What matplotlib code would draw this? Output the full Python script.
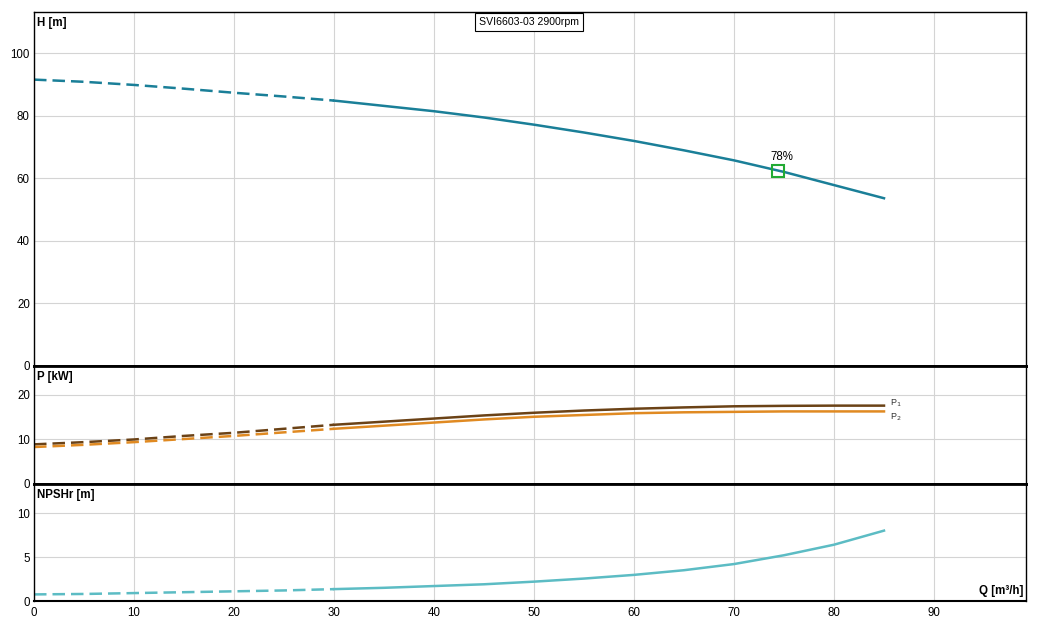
import matplotlib
matplotlib.use("Agg")
import matplotlib.pyplot as plt
import numpy as np

plt.rcParams['font.family'] = ['Liberation Sans', 'DejaVu Sans']

q = [0, 5, 10, 15, 20, 25, 30, 35, 40, 45, 50, 55, 60, 65, 70, 75, 80, 85]
head = [91.5, 90.8, 89.8, 88.6, 87.3, 86.1, 84.8, 83.1, 81.4, 79.4, 77.1, 74.6, 71.9, 68.9, 65.7, 62.0, 57.8, 53.6]
p1 = [8.9, 9.4, 10.0, 10.8, 11.5, 12.4, 13.3, 14.0, 14.7, 15.4, 16.0, 16.5, 16.9, 17.2, 17.45, 17.55, 17.6, 17.6]
p2 = [8.3, 8.8, 9.4, 10.1, 10.8, 11.6, 12.4, 13.1, 13.8, 14.5, 15.1, 15.5, 15.9, 16.1, 16.2, 16.3, 16.3, 16.3]
npsh = [0.75, 0.8, 0.9, 1.0, 1.1, 1.2, 1.35, 1.5, 1.7, 1.9, 2.2, 2.55, 2.97, 3.5, 4.2, 5.2, 6.4, 8.0]
q_split = 30
bep_q, bep_h, bep_label = 74.4, 62.4, "78%"
title = "SVI6603-03 2900rpm"
x_ticks = [0, 10, 20, 30, 40, 50, 60, 70, 80, 90]
h_ticks = [0, 20, 40, 60, 80, 100]
p_ticks = [0, 10, 20]
n_ticks = [0, 5, 10]

W, H = 1043, 625
fig = plt.figure(figsize=(W / 100, H / 100), dpi=100)
L, R = 34 / W, 1026 / W

def ax_at(top, bottom):
    return fig.add_axes([L, 1 - bottom / H, R - L, (bottom - top) / H])

axH = ax_at(12, 366)
axP = ax_at(366, 484)
axN = ax_at(484, 601)

c_h = "#1a7f98"
c_n = "#5cbcc4"
c_p1 = "#6b4216"
c_p2 = "#e08a22"
fs = 8.3

qa = np.array(q)
def split_plot(ax, y, color, lw=1.8):
    y = np.array(y)
    m1 = qa <= q_split
    m2 = qa >= q_split
    ax.plot(qa[m1], y[m1], color=color, lw=lw, ls=(0, (5, 2.4)))
    ax.plot(qa[m2], y[m2], color=color, lw=lw, ls="-")

split_plot(axH, head, c_h)
split_plot(axP, p1, c_p1)
split_plot(axP, p2, c_p2)
split_plot(axN, npsh, c_n)

axH.plot([bep_q], [bep_h], marker="s", ms=8, mfc="none", mec="#22aa33", mew=1.5)
axH.text(bep_q + 0.4, bep_h + 2.5, bep_label, fontsize=fs, ha="center", va="bottom")

axP.text(q[-1] + 0.6, p1[-1] + 0.6, "P$_1$", fontsize=6.5, va="center", ha="left", color="#333333")
axP.text(q[-1] + 0.6, p2[-1] - 1.2, "P$_2$", fontsize=6.5, va="center", ha="left", color="#333333")

for ax, ylim, ticks in [(axH, (0, 113.1), h_ticks), (axP, (0, 26.5), p_ticks), (axN, (0, 13.3), n_ticks)]:
    ax.set_xlim(0, 99.2)
    ax.set_ylim(*ylim)
    ax.set_yticks(ticks)
    ax.set_xticks(x_ticks)
    ax.grid(True, color="#d4d4d4", lw=0.8)
    ax.set_axisbelow(True)
    ax.tick_params(length=0, labelsize=fs, pad=3)
    for s in ax.spines.values():
        s.set_color("black")
        s.set_linewidth(1.0)

axH.tick_params(labelbottom=False)
axP.tick_params(labelbottom=False)
axH.spines["bottom"].set_linewidth(2)
axP.spines["top"].set_linewidth(2)
axP.spines["bottom"].set_linewidth(2)
axN.spines["top"].set_linewidth(2)
axN.spines["bottom"].set_linewidth(1.5)
axN.tick_params(axis="x", pad=4)

axH.text(0.003, 0.985, "H [m]", transform=axH.transAxes, fontsize=fs, fontweight="bold", va="top", ha="left")
axP.text(0.003, 0.96, "P [kW]", transform=axP.transAxes, fontsize=fs, fontweight="bold", va="top", ha="left")
axN.text(0.003, 0.96, "NPSHr [m]", transform=axN.transAxes, fontsize=fs, fontweight="bold", va="top", ha="left")
axN.text(0.997, 0.03, "Q [m³/h]", transform=axN.transAxes, fontsize=fs, fontweight="bold", va="bottom", ha="right")

axH.text(0.499, 0.972, title, transform=axH.transAxes, fontsize=7.6, ha="center", va="center",
         bbox=dict(boxstyle="square,pad=0.35", fc="white", ec="black", lw=0.8))

fig.savefig("out.png", dpi=100, facecolor="white")
